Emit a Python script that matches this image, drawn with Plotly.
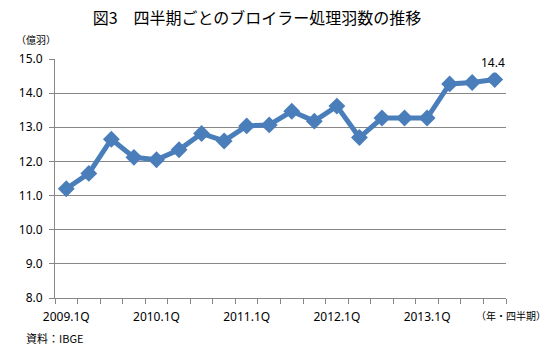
import plotly.graph_objects as go

categories = ["2009.1Q","2009.2Q","2009.3Q","2009.4Q",
              "2010.1Q","2010.2Q","2010.3Q","2010.4Q",
              "2011.1Q","2011.2Q","2011.3Q","2011.4Q",
              "2012.1Q","2012.2Q","2012.3Q","2012.4Q",
              "2013.1Q","2013.2Q","2013.3Q","2013.4Q"]
values = [11.2, 11.65, 12.65, 12.12, 12.05, 12.34, 12.82, 12.6,
          13.04, 13.07, 13.47, 13.18, 13.62, 12.7, 13.27, 13.27,
          13.27, 14.27, 14.31, 14.4]
label_idx = [0, 4, 8, 12, 16]
y_ticks = [8, 9, 10, 11, 12, 13, 14, 15]

xs = list(range(len(categories)))
CJK = "Noto Sans CJK JP"
GRID = "#878787"

fig = go.Figure()
fig.add_trace(go.Scatter(
    x=xs, y=values, mode="lines+markers",
    line=dict(color="#4a7ebb", width=5),
    marker=dict(symbol="diamond", size=13, color="#4a7ebb"),
    hoverinfo="skip", showlegend=False,
))

fig.add_annotation(x=xs[-1], y=values[-1], text=f"{values[-1]:.1f}",
                   showarrow=False, yshift=17, xshift=-2,
                   font=dict(family="Noto Sans", size=12, color="#000"),
                   bgcolor="white")

fig.update_layout(
    width=559, height=361,
    margin=dict(l=55, r=53, t=59, b=63),
    paper_bgcolor="white", plot_bgcolor="white",
    title=dict(text="図3　四半期ごとのブロイラー処理羽数の推移",
               x=257/559, xanchor="center", y=1-18/361, yanchor="middle",
               font=dict(family=CJK, size=16, color="#000")),
    xaxis=dict(range=[-0.5, len(categories)-0.5],
               tickvals=[xs[i] for i in label_idx],
               ticktext=[categories[i] for i in label_idx],
               ticks="", showgrid=False, zeroline=False,
               showline=True, linecolor=GRID, linewidth=1,
               ticklabelstandoff=8,
               tickfont=dict(family="Noto Sans", size=12, color="#000"),
               minor=dict(tick0=-0.5, dtick=1, ticks="outside", ticklen=5,
                          tickcolor=GRID, showgrid=False),
               fixedrange=True),
    yaxis=dict(range=[8, 15], tickvals=y_ticks,
               ticktext=[f"{v:.1f}" for v in y_ticks],
               showgrid=True, gridcolor=GRID, gridwidth=1,
               zeroline=False, showline=True, linecolor=GRID, linewidth=1,
               ticks="outside", ticklen=5, tickcolor=GRID,
               ticklabelstandoff=4,
               tickfont=dict(family="Noto Sans", size=12, color="#000"),
               fixedrange=True),
)

fig.add_annotation(xref="paper", yref="paper", x=-55/451+14/451, y=1+19/239,
                   xanchor="left", yanchor="middle", showarrow=False,
                   text="（億羽）", font=dict(family=CJK, size=10, color="#000"))
fig.add_annotation(xref="paper", yref="paper", x=1+5/451, y=-17/239,
                   xanchor="center", yanchor="middle", showarrow=False,
                   text="（年・四半期）", font=dict(family=CJK, size=10, color="#000"))
fig.add_annotation(xref="paper", yref="paper", x=-55/451+24/451, y=-40/239,
                   xanchor="left", yanchor="middle", showarrow=False,
                   text="資料：IBGE", font=dict(family=CJK, size=11, color="#000"))

fig.write_html("out.html", config={"displayModeBar": False},
               post_script="document.body.style.margin='0';document.body.style.padding='0';")
